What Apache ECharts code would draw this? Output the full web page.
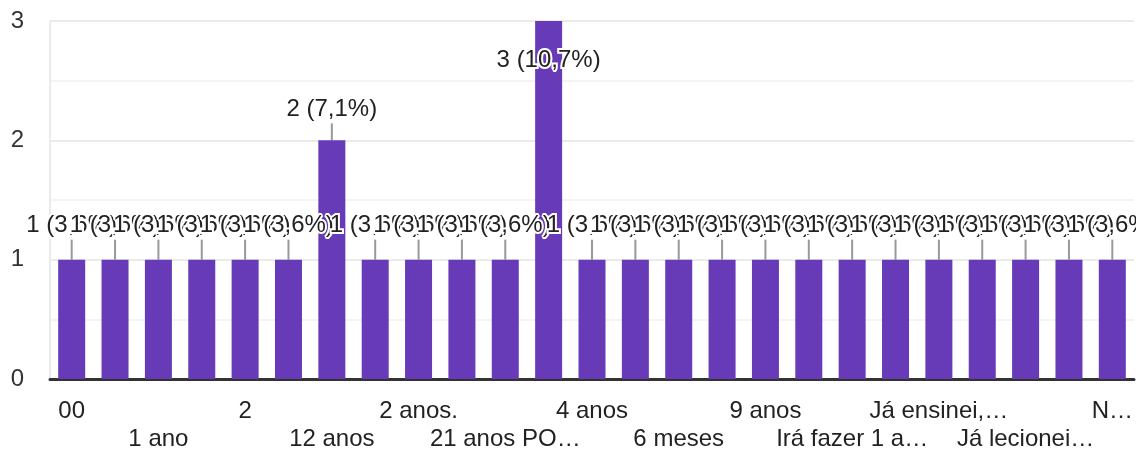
<!DOCTYPE html>
<html>
<head>
<meta charset="utf-8">
<script src="https://cdn.jsdelivr.net/npm/echarts@6/dist/echarts.min.js"></script>
<style>
  html, body { margin: 0; padding: 0; background: #fff; }
  #chart { width: 1136px; height: 449px; }
</style>
</head>
<body>
<div id="chart"></div>
<script>
// categorias (respostas), na ordem do gráfico
const categories = [
  "00", "1", "1 ano", "10 anos", "2", "11 anos", "12 anos", "15 anos",
  "2 anos.", "20 anos", "21 anos PO…", "3 anos", "4 anos", "5 anos",
  "6 meses", "8 anos", "9 anos", "Dois anos", "Irá fazer 1 a…",
  "Já dei aulas…", "Já ensinei,…", "Já fui…", "Já lecionei…",
  "Menos de 1 ano", "N…"
];
const counts = [1, 1, 1, 1, 1, 1, 2, 1, 1, 1, 1, 3, 1, 1, 1, 1, 1, 1, 1, 1, 1, 1, 1, 1, 1];
const yTicks = [0, 1, 2, 3];

const total = counts.reduce((a, b) => a + b, 0);
const FONT = "Liberation Sans, Arial";

const chart = echarts.init(document.getElementById("chart"));
chart.setOption({
  backgroundColor: "#fff",
  animation: false,
  grid: { left: 50, right: 2, top: 21, bottom: 70, containLabel: false, outerBoundsMode: "none" },
  xAxis: {
    type: "category",
    data: categories,
    axisTick: { show: false },
    axisLine: { lineStyle: { color: "#333", width: 3 } },
    axisLabel: {
      interval: 0,
      margin: 18,
      fontSize: 24,
      lineHeight: 28,
      color: "#222",
      fontFamily: FONT,
      formatter: (v, i) => {
        if (i % 4 === 0) return v;
        if (i % 4 === 2) return "\n" + v;
        return "";
      }
    }
  },
  yAxis: {
    type: "value",
    min: yTicks[0],
    max: yTicks[yTicks.length - 1],
    interval: 1,
    axisLine: { show: true, lineStyle: { color: "#ebebeb", width: 2 } },
    axisTick: { show: false },
    axisLabel: {
      margin: 26,
      fontSize: 24,
      color: "#333",
      fontFamily: FONT
    },
    splitLine: { lineStyle: { color: "#ebebeb", width: 2 } },
    minorTick: { show: false, splitNumber: 2 },
    minorSplitLine: { show: true, lineStyle: { color: "#f4f4f4", width: 2 } }
  },
  series: [{
    type: "bar",
    data: counts,
    barWidth: 27,
    itemStyle: { color: "#673ab7" },
    label: {
      show: true,
      position: "top",
      distance: 5,
      fontSize: 24,
      color: "#222",
      fontFamily: FONT,
      textBorderColor: "#fff",
      textBorderWidth: 4,
      formatter: p => p.value + " (" + (p.value / total * 100).toFixed(1).replace(".", ",") + "%)"
    },
    labelLine: { show: true, lineStyle: { color: "#999", width: 2 } },
    labelLayout: p => {
      const v = counts[p.dataIndex];
      if (v === 3) return { dy: 56 };
      if (v === 2) return { dy: -14 };
      return { dy: -17 };
    }
  }]
});
</script>
</body>
</html>
